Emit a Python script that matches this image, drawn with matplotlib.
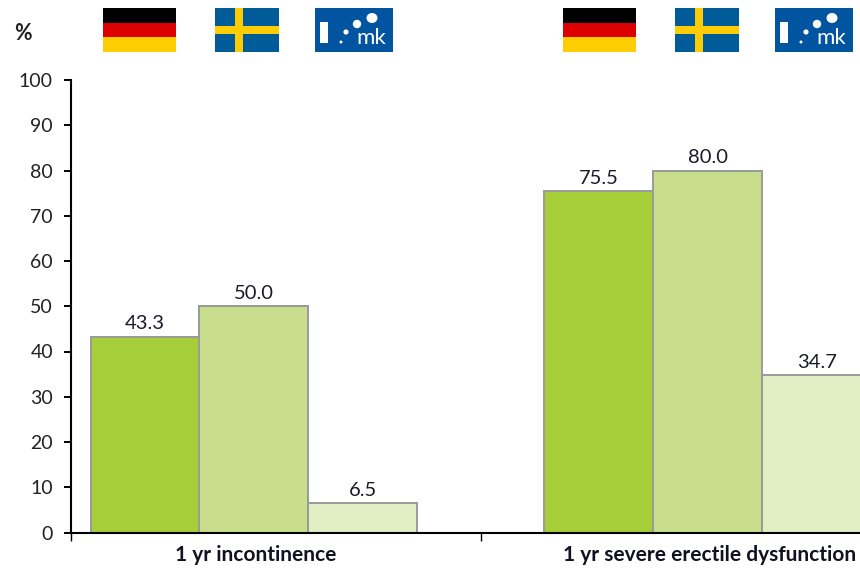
import matplotlib
matplotlib.use("Agg")
import matplotlib.pyplot as plt
from matplotlib.patches import Rectangle, Circle, Ellipse
import numpy as np

categories = ["1 yr incontinence", "1 yr severe erectile dysfunction"]
germany = [43.3, 75.5]
sweden = [50.0, 80.0]
imk = [6.5, 34.7]
series = [germany, sweden, imk]
colors = ["#a6ce39", "#c8de8c", "#e2eec4"]
yticks = list(range(0, 101, 10))

W, H = 860, 569
plt.rcParams["font.family"] = ["Lato", "DejaVu Sans"]
fig = plt.figure(figsize=(W / 100, H / 100), dpi=100, facecolor="white")


def box(x0, y0, x1, y1):
    return [x0 / W, 1 - y1 / H, (x1 - x0) / W, (y1 - y0) / H]


ax = fig.add_axes(box(71, 80, 860, 532.5))
width = 0.24
x = np.arange(len(categories))
for i, (vals, c) in enumerate(zip(series, colors)):
    bars = ax.bar(x + (i - 1) * width, vals, width, color=c,
                  edgecolor="#9a9a9a", linewidth=1.4, zorder=2)
    for b, v in zip(bars, vals):
        ax.annotate(f"{v:.1f}", (b.get_x() + b.get_width() / 2, v),
                    xytext=(0, 3), textcoords="offset points", ha="center",
                    va="bottom", fontsize=14.5, color="#1a1a2a",
                    annotation_clip=False)

left, right = -0.403, 1.335
ax.set_xlim(left, right)
ax.set_ylim(0, 100)
ax.set_yticks(yticks)
ax.set_xticks([left, 0.5])
ax.set_xticklabels([])
ax.tick_params(axis="y", length=5, width=1.4, labelsize=14, pad=8, color="black",
               labelcolor="#222222")
ax.tick_params(axis="x", length=6, width=1.0, color="black")
for s in ["top", "right"]:
    ax.spines[s].set_visible(False)
for s in ["left", "bottom"]:
    ax.spines[s].set_linewidth(1.5)
for xc, name in zip(x, categories):
    ax.annotate(name, (xc, 0), xytext=(1, -9), textcoords="offset points",
                ha="center", va="top", fontsize=15, fontweight="bold",
                color="#111122", annotation_clip=False)

fig.text(23 / W, 1 - 33 / H, "%", ha="center", va="center", fontsize=15.5,
         fontweight="bold", color="#222222")


def flag_axes(x0, x1):
    a = fig.add_axes(box(x0, 8, x1, 52))
    a.set_xlim(0, 1)
    a.set_ylim(1, 0)
    a.axis("off")
    return a


for x0 in (103, 563):
    a = flag_axes(x0, x0 + 73)
    for k, col in enumerate(["#000000", "#dd0000", "#ffce00"]):
        a.add_patch(Rectangle((0, k / 3), 1, 1 / 3, color=col, lw=0))

for x0 in (215, 675):
    a = flag_axes(x0, x0 + 64)
    a.add_patch(Rectangle((0, 0), 1, 1, color="#005b99", lw=0))
    a.add_patch(Rectangle((0.32, 0), 0.125, 1, color="#fecc00", lw=0))
    a.add_patch(Rectangle((0, 0.40), 1, 0.19, color="#fecc00", lw=0))

for x0 in (315, 775):
    a = fig.add_axes(box(x0, 8, x0 + 78, 52))
    a.set_xlim(0, 78)
    a.set_ylim(44, 0)
    a.axis("off")
    a.add_patch(Rectangle((0, 0), 78, 44, color="#0054a0", lw=0))
    a.add_patch(Rectangle((5, 14), 8, 21, color="white", lw=0))
    a.add_patch(Circle((26, 34), 1.5, color="white", lw=0))
    a.add_patch(Circle((31, 24), 2.6, color="white", lw=0))
    a.add_patch(Circle((42, 16), 4.2, color="white", lw=0))
    a.add_patch(Ellipse((57, 10), 11, 10, color="white", lw=0))
    a.text(56, 30, "mk", color="white", fontsize=16, ha="center", va="center")

fig.savefig("out.png", dpi=100)
